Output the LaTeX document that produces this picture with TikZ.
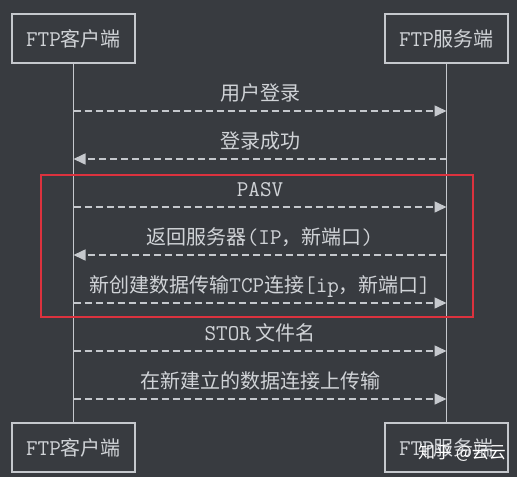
\documentclass[tikz,border=0pt]{standalone}
\usepackage{fontspec}
\setmainfont{Noto Sans CJK SC}
\usetikzlibrary{arrows.meta}
\definecolor{bgdark}{RGB}{56,59,64}
\definecolor{lnlight}{RGB}{197,200,205}
\definecolor{txlight}{RGB}{208,211,215}
\definecolor{framered}{RGB}{220,50,62}
\newcommand{\mono}[1]{{\ttfamily\fontsize{22.5}{24}\selectfont #1}}
\begin{document}
\begin{tikzpicture}[x=1pt,y=-1pt,
  actor/.style={draw=lnlight,line width=1.8pt,minimum width=123pt,minimum height=49pt,inner sep=0pt,text=txlight,font=\fontsize{20}{22}\selectfont},
  life/.style={lnlight,line width=1.8pt},
  msg/.style={lnlight,line width=1.6pt,dash pattern=on 7pt off 4pt,-{Triangle[length=12pt,width=11pt]}},
  lbl/.style={text=txlight,font=\fontsize{20}{22}\selectfont,inner sep=0pt,anchor=base},
  redline/.style={draw=framered,line width=1.5pt}]
\fill[bgdark] (0,0) rectangle (517,477);
\node[actor] (cT) at (73.5,38.5) {\mono{FTP}客户端};
\node[actor] (sT) at (446.5,38.5) {\mono{FTP}服务端};
\node[actor] (cB) at (73.5,447.5) {\mono{FTP}客户端};
\node[actor] (sB) at (446.5,447.5) {\mono{FTP}服务端};
\draw[life] (cT) -- (cB);
\draw[life] (sT) -- (sB);
% frame
\coordinate (fNW) at (41.2,175.2);
\coordinate (fSE) at (473.2,317.2);
\draw[redline] (fNW) rectangle (fSE);
% message anchor points
\foreach \i/\y in {1/111,2/159,3/207,4/255,5/303,6/351,7/399}{
  \coordinate (c\i) at (73.5,\y);
  \coordinate (s\i) at (446.5,\y);
}
\draw[msg] (c1) -- (s1) node[lbl,pos=0.5,yshift=10.5pt] (l1) {用户登录};
\draw[msg] (s2) -- (c2) node[lbl,pos=0.5,yshift=10.5pt] (l2) {登录成功};
\draw[msg] (c3) -- (s3) node[lbl,pos=0.5,yshift=10.5pt] (l3) {\mono{PASV}};
\draw[msg] (s4) -- (c4) node[lbl,pos=0.5,yshift=10.5pt] (l4) {返回服务器\mono{(IP}，新端口\mono{)}};
\draw[msg] (c5) -- (s5) node[lbl,pos=0.5,yshift=10.5pt] (l5) {新创建数据传输\mono{TCP}连接\mono{[ip}，新端口\mono{]}};
\draw[msg] (c6) -- (s6) node[lbl,pos=0.5,yshift=10.5pt] (l6) {\mono{STOR} 文件名};
\draw[msg] (c7) -- (s7) node[lbl,pos=0.5,yshift=10.5pt] (l7) {在新建立的数据连接上传输};
% watermark
\node[text=white,font=\fontsize{17}{17}\selectfont,inner sep=0pt] (wm) at (462,453) {知乎 @云云};
\end{tikzpicture}
\end{document}
